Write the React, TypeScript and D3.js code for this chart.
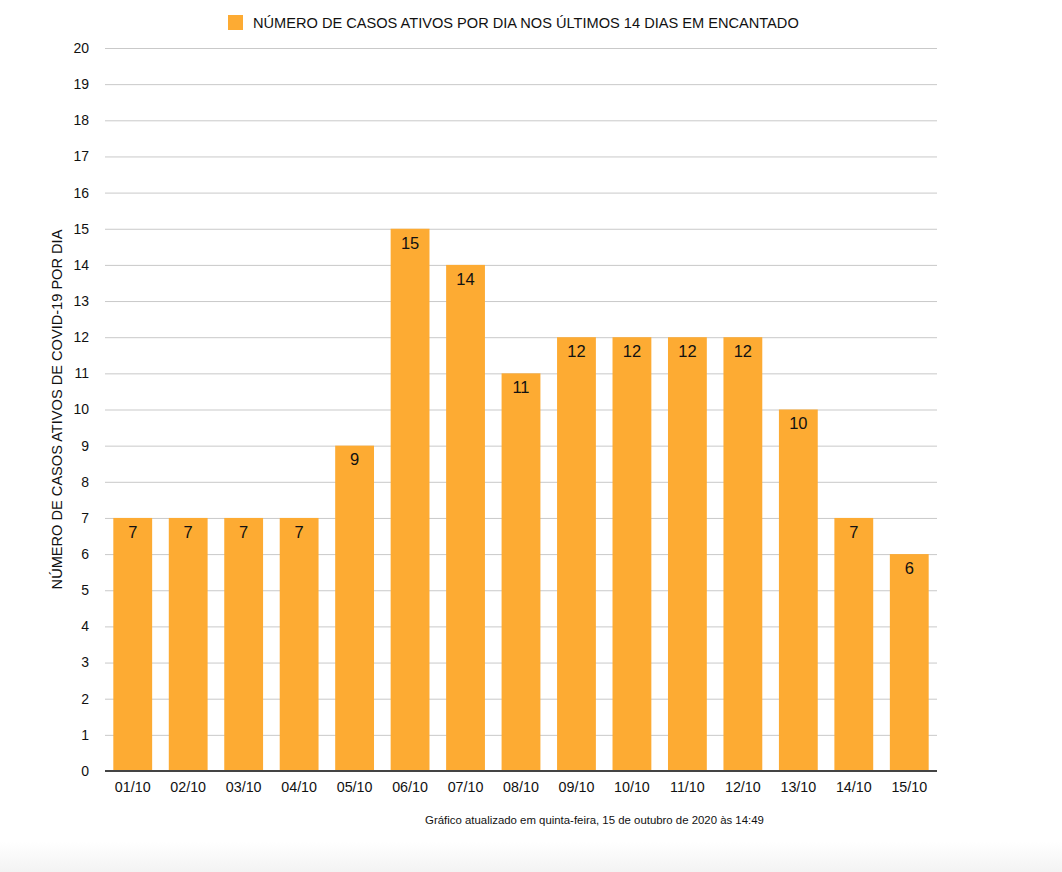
import React, { useEffect, useRef } from "react";
import * as d3 from "d3";

const categories = ["01/10","02/10","03/10","04/10","05/10","06/10","07/10","08/10","09/10","10/10","11/10","12/10","13/10","14/10","15/10"];
const values = [7,7,7,7,9,15,14,11,12,12,12,12,10,7,6];
const yTicks = d3.range(0, 21, 1);
const legendLabel = "NÚMERO DE CASOS ATIVOS POR DIA NOS ÚLTIMOS 14 DIAS EM ENCANTADO";
const yTitle = "NÚMERO DE CASOS ATIVOS DE COVID-19 POR DIA";
const footnote = "Gráfico atualizado em quinta-feira, 15 de outubro de 2020 às 14:49";

const W = 1062, H = 872;
const FONT = "'Liberation Sans', Arial, Helvetica, sans-serif";
const ORANGE = "#fdab33";

export default function App() {
  const ref = useRef<SVGSVGElement>(null);
  useEffect(() => {
    const svg = d3.select(ref.current);
    svg.selectAll("*").remove();
    const left = 105, right = 937, top = 48, bottom = 771;
    const x = d3.scaleBand<string>().domain(categories).range([left, right]).paddingInner(0.3).paddingOuter(0.15);
    const y = d3.scaleLinear().domain([0, 20]).range([bottom, top]);

    const defs = svg.append("defs");
    const g = defs.append("linearGradient").attr("id", "bg").attr("x1", 0).attr("y1", 0).attr("x2", 0).attr("y2", 1);
    g.append("stop").attr("offset", "0%").attr("stop-color", "#ffffff");
    g.append("stop").attr("offset", "100%").attr("stop-color", "#f3f3f3");
    svg.append("rect").attr("x", 0).attr("y", 0).attr("width", W).attr("height", H).attr("fill", "#fff");
    svg.append("rect").attr("x", 0).attr("y", 842).attr("width", W).attr("height", 30).attr("fill", "url(#bg)");

    svg.append("g").selectAll("line").data(yTicks.filter(t => t > 0)).join("line")
      .attr("x1", left).attr("x2", right)
      .attr("y1", d => y(d) + 0.5).attr("y2", d => y(d) + 0.5)
      .attr("stroke", "#c9c9c9").attr("stroke-width", 1);

    svg.append("g").selectAll("text").data(yTicks).join("text")
      .attr("x", 89).attr("y", d => y(d))
      .attr("dy", "0.35em").attr("text-anchor", "end")
      .attr("font-family", FONT).attr("font-size", 14).attr("fill", "#111")
      .text(d => d);

    svg.append("g").selectAll("rect").data(values).join("rect")
      .attr("x", (d, i) => x(categories[i])!)
      .attr("width", x.bandwidth())
      .attr("y", d => y(d))
      .attr("height", d => y(0) - y(d))
      .attr("fill", ORANGE);

    svg.append("g").selectAll("text").data(values).join("text")
      .attr("x", (d, i) => x(categories[i])! + x.bandwidth() / 2)
      .attr("y", d => y(d) + 14)
      .attr("dy", "0.35em").attr("text-anchor", "middle")
      .attr("font-family", FONT).attr("font-size", 16.5).attr("fill", "#111")
      .text(d => d);

    svg.append("line").attr("x1", left).attr("x2", right).attr("y1", bottom).attr("y2", bottom)
      .attr("stroke", "#444").attr("stroke-width", 2);

    svg.append("g").selectAll("text").data(categories).join("text")
      .attr("x", d => x(d)! + x.bandwidth() / 2).attr("y", 787)
      .attr("dy", "0.35em").attr("text-anchor", "middle")
      .attr("font-family", FONT).attr("font-size", 14.3).attr("fill", "#111")
      .text(d => d);

    svg.append("text")
      .attr("transform", `translate(57, ${(top + bottom) / 2}) rotate(-90)`)
      .attr("dy", "0.35em").attr("text-anchor", "middle")
      .attr("font-family", FONT).attr("font-size", 14.6).attr("fill", "#111")
      .text(yTitle);

    svg.append("rect").attr("x", 228).attr("y", 15).attr("width", 15).attr("height", 15).attr("fill", ORANGE);
    svg.append("text").attr("x", 253).attr("y", 22.5).attr("dy", "0.35em")
      .attr("font-family", FONT).attr("font-size", 14.6).attr("fill", "#111")
      .text(legendLabel);

    svg.append("text").attr("x", 594.5).attr("y", 820).attr("dy", "0.35em").attr("text-anchor", "middle")
      .attr("font-family", FONT).attr("font-size", 11.4).attr("fill", "#111")
      .text(footnote);
  }, []);
  return (
    <svg ref={ref} width={W} height={H} style={{ position: "absolute", left: 0, top: 0 }} />
  );
}
